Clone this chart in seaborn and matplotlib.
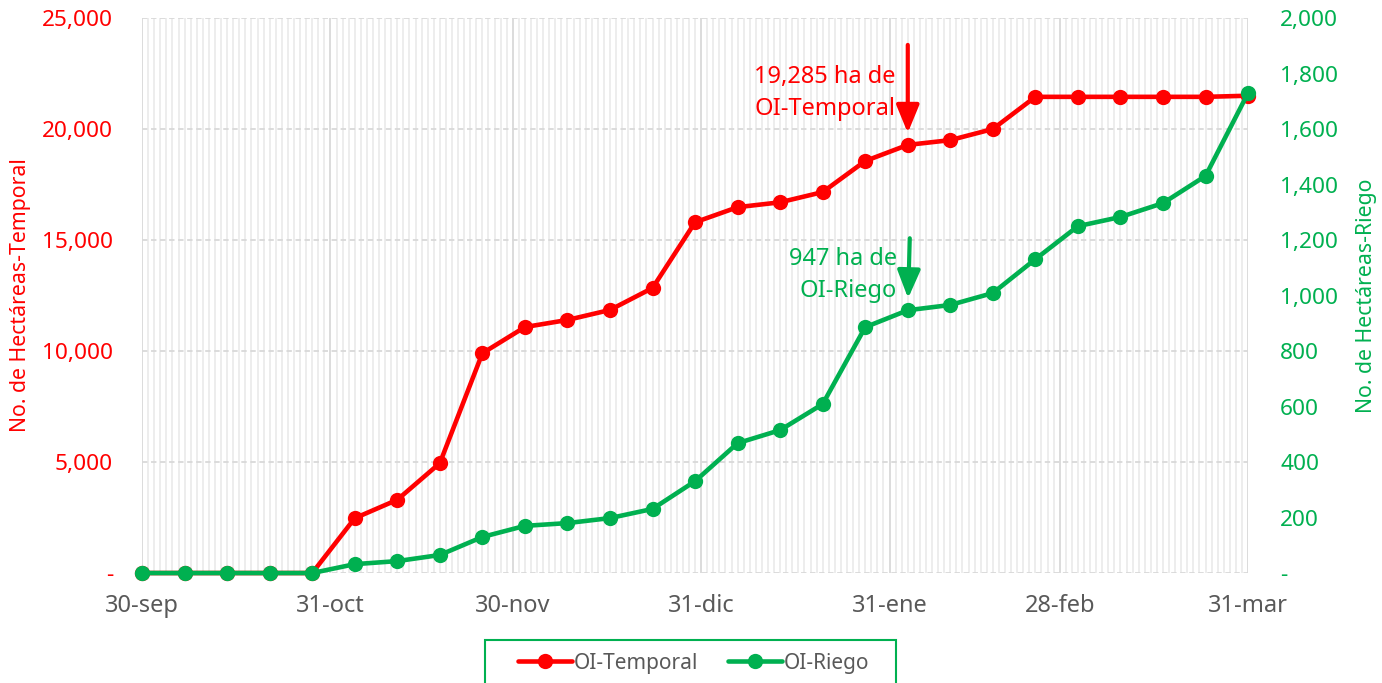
import pandas as pd
import matplotlib
matplotlib.use('Agg')
import matplotlib.pyplot as plt
import matplotlib.dates as mdates
import matplotlib.ticker as mticker
from matplotlib.patches import Rectangle
import seaborn as sb

# fechas de corte semanales (ciclo OI 2022-2023)
fechas = ['2022-09-30', '2022-10-07', '2022-10-14', '2022-10-21', '2022-10-28',
          '2022-11-04', '2022-11-11', '2022-11-18', '2022-11-25', '2022-12-02',
          '2022-12-09', '2022-12-16', '2022-12-23', '2022-12-30', '2023-01-06',
          '2023-01-13', '2023-01-20', '2023-01-27', '2023-02-03', '2023-02-10',
          '2023-02-17', '2023-02-24', '2023-03-03', '2023-03-10', '2023-03-17',
          '2023-03-24', '2023-03-31']

# hectareas acumuladas
temporal = [0, 0, 0, 0, 0, 2470, 3300, 4950, 9900, 11080, 11400, 11850, 12840,
            15800, 16480, 16700, 17160, 18560, 19285, 19500, 20000, 21450,
            21450, 21450, 21450, 21450, 21500]
riego = [0, 0, 0, 0, 0, 32, 43, 65, 130, 170, 180, 198, 231, 331, 468, 515,
         609, 886, 947, 966, 1009, 1131, 1250, 1283, 1333, 1431, 1730]

meses = ['2022-09-30', '2022-10-31', '2022-11-30', '2022-12-31', '2023-01-31',
         '2023-02-28', '2023-03-31']
etiquetas_meses = ['30-sep', '31-oct', '30-nov', '31-dic', '31-ene', '28-feb', '31-mar']

fecha_nota = '2023-02-03'
nota_temporal = '19,285 ha de\nOI-Temporal'
nota_riego = '947 ha de\nOI-Riego'

rojo = '#FF0000'
verde = '#00B050'
gris = '#595959'

df = pd.DataFrame({'fecha': pd.to_datetime(fechas), 'temporal': temporal, 'riego': riego})

sb.set_style('white')
plt.rcParams['font.family'] = ['Noto Sans', 'DejaVu Sans']

fig = plt.figure(figsize=(13.82, 6.83), dpi=100)
ax = fig.add_axes([0.1028, 0.161, 0.8003, 0.8126])

sb.lineplot(data=df, x='fecha', y='temporal', ax=ax, color=rojo, marker='o',
            markersize=11, markeredgewidth=0, linewidth=3.3, label='OI-Temporal',
            legend=False, clip_on=False)

ax2 = ax.twinx()
sb.lineplot(data=df, x='fecha', y='riego', ax=ax2, color=verde, marker='o',
            markersize=11, markeredgewidth=0, linewidth=3.3, label='OI-Riego',
            legend=False, clip_on=False)

ax.set_xlim(df['fecha'].iloc[0], df['fecha'].iloc[-1])
ax.set_ylim(0, 25000)
ax2.set_ylim(0, 2000)
ax.yaxis.set_major_locator(mticker.MultipleLocator(5000))
ax2.yaxis.set_major_locator(mticker.MultipleLocator(200))

fmt = mticker.FuncFormatter(lambda v, p: '-' if v == 0 else f'{v:,.0f}')
ax.yaxis.set_major_formatter(fmt)
ax2.yaxis.set_major_formatter(fmt)

ax.set_xticks(pd.to_datetime(meses))
ax.set_xticklabels(etiquetas_meses)
ax.xaxis.set_minor_locator(mdates.DayLocator())

ax.tick_params(axis='x', which='major', length=9, color='#D9D9D9', width=1.3,
               labelsize=17, labelcolor=gris, pad=6)
ax.tick_params(axis='x', which='minor', length=0)
ax.tick_params(axis='y', length=0, labelsize=16.3, labelcolor=rojo, pad=21)
ax2.tick_params(axis='y', length=0, labelsize=16.3, labelcolor=verde, pad=23)

ax.grid(which='major', axis='x', color='#D9D9D9', linewidth=1.3)
ax.grid(which='minor', axis='x', color='#EDEDED', linewidth=1.4)
ax.grid(which='major', axis='y', color='#D9D9D9', linewidth=1.3, linestyle=(0, (3, 2)))
ax2.grid(False)

for a in (ax, ax2):
    for s in a.spines.values():
        s.set_visible(False)

ax.set_xlabel('')
ax.set_ylabel('No. de Hectáreas-Temporal', color=rojo, fontsize=15.3, labelpad=8)
ax2.set_ylabel('No. de Hectáreas-Riego', color=verde, fontsize=15.3, labelpad=13)

# flechas y notas
xn = pd.to_datetime(fecha_nota)
yt = df.loc[df['fecha'] == xn, 'temporal'].iloc[0]
yr = df.loc[df['fecha'] == xn, 'riego'].iloc[0]

ax.annotate('', xy=(xn, yt), xytext=(0, 100), textcoords='offset pixels',
            arrowprops=dict(arrowstyle='-|>,head_length=0.85,head_width=0.35',
                            mutation_scale=20, color=rojo, lw=3, shrinkA=0, shrinkB=8.6))
ax.annotate(nota_temporal, xy=(xn, yt), xytext=(-12, 52), textcoords='offset pixels',
            ha='right', va='center', color=rojo, fontsize=17, linespacing=1.45)

ax2.annotate('', xy=(xn, yr), xytext=(2, 72), textcoords='offset pixels',
             arrowprops=dict(arrowstyle='-|>,head_length=0.85,head_width=0.35',
                             mutation_scale=20, color=verde, lw=3, shrinkA=0, shrinkB=8.6))
ax2.annotate(nota_riego, xy=(xn, yr), xytext=(-11, 35), textcoords='offset pixels',
             ha='right', va='center', color=verde, fontsize=17, linespacing=1.45)

# leyenda abajo, con marco verde (el marco queda cortado por el borde)
h1, l1 = ax.get_legend_handles_labels()
h2, l2 = ax2.get_legend_handles_labels()
leg = fig.legend(h1 + h2, l1 + l2, loc='center', bbox_to_anchor=(0.502, 0.029),
                 ncol=2, frameon=False, fontsize=15,
                 handlelength=2.6, handletextpad=0.1, columnspacing=1.4, borderpad=0)
for t in leg.get_texts():
    t.set_color(gris)
fig.patches.append(Rectangle((485 / 1382, -0.05), 411 / 1382, 0.05 + 43 / 683,
                             transform=fig.transFigure, fill=False,
                             edgecolor=verde, linewidth=1.5))

fig.savefig('out.png', dpi=100)
